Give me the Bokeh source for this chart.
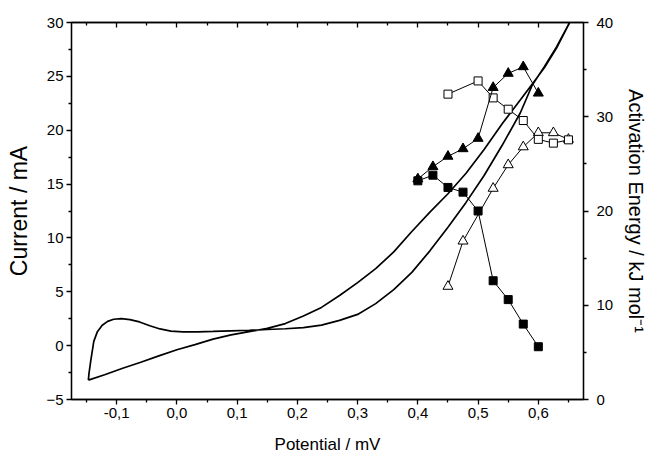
from bokeh.plotting import figure
from bokeh.models import Range1d, LinearAxis, FixedTicker, CustomJSTickFormatter
from bokeh.embed import file_html
from bokeh.resources import INLINE

# ---- CV curve (Current / mA vs Potential / mV) ----
fwd_x = [-0.147, -0.146, -0.143, -0.138, -0.132, -0.124, -0.115, -0.105, -0.092, -0.078,
         -0.062, -0.045, -0.028, -0.010, 0.010, 0.035, 0.060, 0.090, 0.120, 0.150,
         0.180, 0.210, 0.240, 0.270, 0.300, 0.330, 0.360, 0.390, 0.420, 0.450,
         0.480, 0.510, 0.540, 0.570, 0.590, 0.610, 0.630, 0.652]
fwd_y = [-3.2, -2.6, -1.4, 0.4, 1.3, 1.9, 2.25, 2.45, 2.5, 2.42,
         2.2, 1.85, 1.55, 1.35, 1.28, 1.28, 1.32, 1.38, 1.43, 1.5,
         1.57, 1.68, 1.9, 2.35, 2.9, 3.9, 5.2, 6.8, 8.8, 11.0,
         13.3, 15.8, 18.6, 21.6, 24.2, 25.9, 27.7, 30.0]
rev_x = [0.652, 0.630, 0.610, 0.590, 0.570, 0.540, 0.510, 0.480, 0.450, 0.420,
         0.390, 0.360, 0.330, 0.300, 0.270, 0.240, 0.210, 0.180, 0.150, 0.120,
         0.090, 0.060, 0.030, 0.000, -0.030, -0.060, -0.090, -0.120, -0.147]
rev_y = [30.0, 27.6, 25.8, 24.3, 22.8, 20.6, 18.2, 16.0, 14.1, 12.4,
         10.6, 8.7, 7.15, 5.85, 4.65, 3.55, 2.75, 2.05, 1.6, 1.3,
         1.0, 0.6, 0.1, -0.38, -0.95, -1.54, -2.1, -2.7, -3.2]

# ---- Activation energy series (kJ/mol) ----
fsq_x = [0.400, 0.425, 0.450, 0.475, 0.500, 0.525, 0.550, 0.575, 0.600]
fsq_y = [23.2, 23.8, 22.5, 22.0, 20.0, 12.6, 10.6, 8.0, 5.6]
ftr_x = [0.400, 0.425, 0.450, 0.475, 0.500, 0.525, 0.550, 0.575, 0.600]
ftr_y = [23.4, 24.7, 25.8, 26.6, 27.7, 33.1, 34.6, 35.3, 32.5]
osq_x = [0.450, 0.500, 0.525, 0.550, 0.575, 0.600, 0.625, 0.650]
osq_y = [32.4, 33.8, 32.0, 30.8, 29.6, 27.6, 27.2, 27.55]
otr_x = [0.450, 0.475, 0.525, 0.550, 0.575, 0.600, 0.625, 0.650]
otr_y = [12.0, 16.8, 22.4, 24.9, 26.8, 28.3, 28.3, 27.6]

x_ticks = [-0.1, 0.0, 0.1, 0.2, 0.3, 0.4, 0.5, 0.6]
x_minor = [-0.15, -0.05, 0.05, 0.15, 0.25, 0.35, 0.45, 0.55, 0.65]
y_ticks = [-5, 0, 5, 10, 15, 20, 25, 30]
y_minor = [-2.5, 2.5, 7.5, 12.5, 17.5, 22.5, 27.5]
e_ticks = [0, 10, 20, 30, 40]
e_minor = [5, 15, 25, 35]

FONT = "Liberation Sans"

p = figure(frame_width=512, frame_height=377, output_backend="svg", toolbar_location=None,
           x_range=Range1d(-0.175, 0.675), y_range=Range1d(-5, 30),
           min_border_left=71, min_border_right=10, min_border_top=22, min_border_bottom=20,
           x_axis_label="Potential / mV", y_axis_label="Current / mA")
p.extra_y_ranges = {"E": Range1d(0, 40)}
p.grid.visible = False
p.outline_line_color = "black"
p.outline_line_width = 1.3
p.background_fill_color = "white"
p.border_fill_color = "white"

def style(ax, ticks, minor, inside=False):
    ax.ticker = FixedTicker(ticks=ticks, minor_ticks=minor)
    ax.axis_line_color = "black"
    ax.axis_line_width = 1.3
    ax.major_tick_line_color = "black"
    ax.minor_tick_line_color = "black"
    ax.major_tick_line_width = 1.3
    ax.minor_tick_line_width = 1.3
    if inside:
        ax.major_tick_in, ax.major_tick_out = 5, 0
        ax.minor_tick_in, ax.minor_tick_out = 3, 0
    else:
        ax.major_tick_in, ax.major_tick_out = 0, 5
        ax.minor_tick_in, ax.minor_tick_out = 0, 3
    ax.major_label_text_font = FONT
    ax.major_label_text_font_size = "15px"
    ax.major_label_text_color = "black"
    ax.axis_label_text_font = FONT
    ax.axis_label_text_font_size = "17px"
    ax.axis_label_text_font_style = "normal"
    ax.axis_label_text_color = "black"

xb = p.xaxis[0]
style(xb, x_ticks, x_minor)
xb.formatter = CustomJSTickFormatter(code="return tick.toFixed(1).replace('.', ',');")
xb.major_label_standoff = 3
xb.axis_label_standoff = 14

yl = p.yaxis[0]
style(yl, y_ticks, y_minor)
yl.major_label_standoff = 3
yl.axis_label_standoff = 11
yl.axis_label_text_font_size = "23px"

yr = LinearAxis(y_range_name="E", axis_label="Activation Energy / kJ mol⁻¹")
style(yr, e_ticks, e_minor)
yr.major_label_standoff = 8
yr.axis_label_standoff = 9
yr.axis_label_text_font_size = "20px"
p.add_layout(yr, "right")

xt = LinearAxis()
style(xt, x_ticks, x_minor, inside=True)
xt.formatter = CustomJSTickFormatter(code="return '';")
xt.major_label_text_font_size = "0px"
xt.major_label_standoff = 0
p.add_layout(xt, "above")

# CV curve
p.line(fwd_x + rev_x, fwd_y + rev_y, line_color="black", line_width=1.7)

# Activation energy series
p.line(otr_x, otr_y, y_range_name="E", line_color="black", line_width=1)
p.scatter(otr_x, otr_y, y_range_name="E", marker="triangle", size=10,
          fill_color="white", line_color="black", line_width=1)
p.line(osq_x, osq_y, y_range_name="E", line_color="black", line_width=1)
p.scatter(osq_x, osq_y, y_range_name="E", marker="square", size=8,
          fill_color="white", line_color="black", line_width=1)
p.line(ftr_x, ftr_y, y_range_name="E", line_color="black", line_width=1)
p.scatter(ftr_x, ftr_y, y_range_name="E", marker="triangle", size=10,
          fill_color="black", line_color="black", line_width=1)
p.line(fsq_x, fsq_y, y_range_name="E", line_color="black", line_width=1)
p.scatter(fsq_x, fsq_y, y_range_name="E", marker="square", size=8,
          fill_color="black", line_color="black", line_width=1)

open("out.html", "w").write(file_html(p, INLINE))
